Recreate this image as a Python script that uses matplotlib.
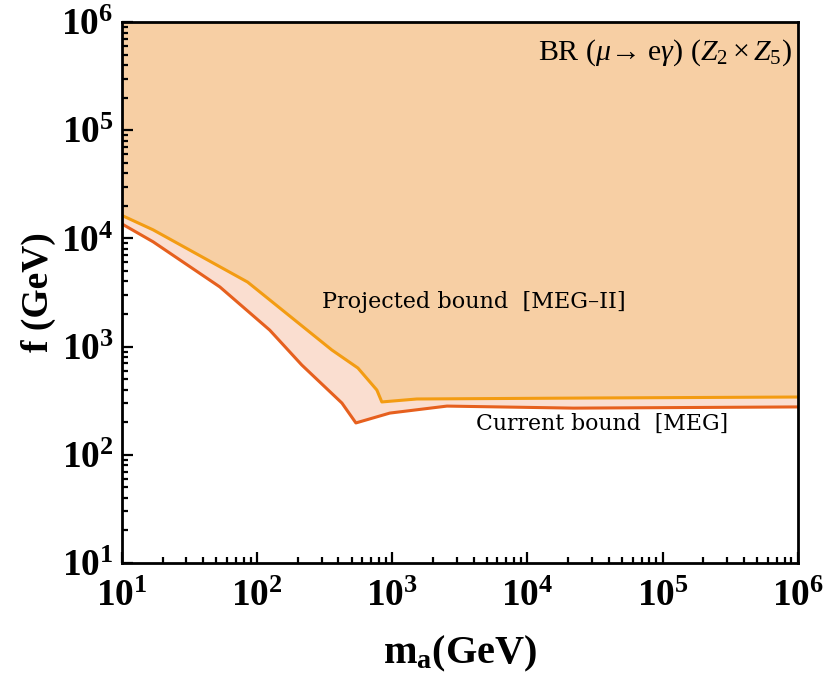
"""mu -> e gamma bounds on f vs m_a (Z2 x Z5), log-log exclusion plot."""

import matplotlib
matplotlib.use("Agg")

import matplotlib.pyplot as plt
from matplotlib.ticker import FixedLocator, FixedFormatter, LogLocator, NullFormatter

plt.rcParams["font.family"] = ["Liberation Serif", "DejaVu Serif"]
plt.rcParams["mathtext.fontset"] = "custom"
plt.rcParams["mathtext.rm"] = "Liberation Serif"
plt.rcParams["mathtext.it"] = "Liberation Serif:italic"
plt.rcParams["mathtext.bf"] = "Liberation Serif:bold"

# projected bound [MEG-II]
m_proj = [10, 17, 85, 357, 557, 769, 837, 1520, 3.0e4, 1e6]
f_proj = [1.63e4, 1.20e4, 3.95e3, 931, 634, 397, 308, 328, 335, 342]

# current bound [MEG]
m_curr = [10, 17, 53, 124, 214, 424, 538, 959, 2540, 2.2e4, 1e6]
f_curr = [1.36e4, 9.3e3, 3.56e3, 1.42e3, 676, 301, 197, 243, 282, 270, 277]

decades = [1e1, 1e2, 1e3, 1e4, 1e5, 1e6]
decade_labels = [r"$\mathbf{10^{%d}}$" % k for k in range(1, 7)]

c_top = "#F7CFA4"
c_mid = "#FADED0"
c_proj = "#F39C12"
c_curr = "#E6601E"

fig = plt.figure(figsize=(8.30, 6.74), dpi=100)
ax = fig.add_axes([0.147, 0.1647, 0.814, 0.8026])
ax.set_axisbelow(False)

ax.fill_between(m_curr, f_curr, 1e6, color=c_mid, lw=0, zorder=1)
ax.fill_between(m_proj, f_proj, 1e6, color=c_top, lw=0, zorder=2)
ax.plot(m_curr, f_curr, color=c_curr, lw=2.2, zorder=3)
ax.plot(m_proj, f_proj, color=c_proj, lw=2.2, zorder=4)

ax.set_xscale("log")
ax.set_yscale("log")
ax.set_xlim(1e1, 1e6)
ax.set_ylim(1e1, 1e6)

for axis in (ax.xaxis, ax.yaxis):
    axis.set_major_locator(FixedLocator(decades))
    axis.set_major_formatter(FixedFormatter(decade_labels))
    axis.set_minor_locator(LogLocator(base=10, subs=range(2, 10), numticks=20))
    axis.set_minor_formatter(NullFormatter())

ax.tick_params(which="both", direction="in", top=False, right=False,
               labelsize=27, width=1.6)
ax.tick_params(which="major", length=8)
ax.tick_params(which="minor", length=4.5)
ax.tick_params(axis="x", which="major", pad=12)
ax.tick_params(axis="y", which="major", pad=6)
for sp in ax.spines.values():
    sp.set_linewidth(2.0)
    sp.set_zorder(6)

ax.set_xlabel(r"$\mathbf{m_a}$(GeV)", fontsize=29, fontweight="bold", labelpad=14)
ax.set_ylabel("f (GeV)", fontsize=27, fontweight="bold", labelpad=4)

ax.text(0.992, 0.972, r"BR ($\mu$→ e$\gamma$) ($Z_2\times Z_5$)",
        transform=ax.transAxes, ha="right", va="top", fontsize=21.5, zorder=7)
ax.text(0.52, 0.482, "Projected bound  [MEG–II]", transform=ax.transAxes,
        ha="center", va="center", fontsize=16, zorder=7,
        family=["DejaVu Serif"])
ax.text(0.71, 0.257, "Current bound  [MEG]", transform=ax.transAxes,
        ha="center", va="center", fontsize=15.8, zorder=7,
        family=["DejaVu Serif"])

fig.savefig("out.png", dpi=100)
